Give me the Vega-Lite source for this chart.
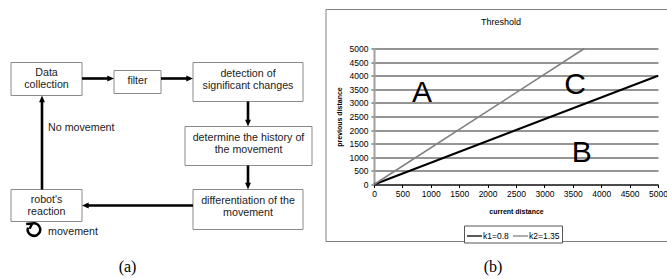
{
  "$schema": "https://vega.github.io/schema/vega-lite/v6.json",
  "background": "white",
  "padding": {"left": 0, "top": 8.5, "right": 0, "bottom": 0},
  "spacing": 0,
  "config": {"view": {"stroke": null}, "font": "Liberation Sans"},
  "datasets": {
    "boxes": [
      {"x": 11, "x2": 82, "y": 62, "y2": 95},
      {"x": 114, "x2": 161, "y": 70, "y2": 93},
      {"x": 193, "x2": 303, "y": 62, "y2": 101},
      {"x": 185, "x2": 312, "y": 126, "y2": 165},
      {"x": 193, "x2": 303, "y": 189, "y2": 229},
      {"x": 11, "x2": 82, "y": 189, "y2": 221}
    ],
    "boxText": [
      {"x": 46.5, "y": 72, "label": "Data\ncollection"},
      {"x": 137.5, "y": 80, "label": "filter"},
      {"x": 248, "y": 73, "label": "detection of\nsignificant changes"},
      {"x": 248.5, "y": 137, "label": "determine the history of\nthe movement"},
      {"x": 248, "y": 200, "label": "differentiation of the\nmovement"},
      {"x": 46.5, "y": 199.5, "label": "robot's\nreaction"}
    ],
    "shafts": [
      {"x": 82, "y": 78, "x2": 109, "y2": 78},
      {"x": 161, "y": 78, "x2": 188, "y2": 78},
      {"x": 248, "y": 101, "x2": 248, "y2": 121},
      {"x": 248, "y": 165, "x2": 248, "y2": 184},
      {"x": 193, "y": 205, "x2": 87, "y2": 205},
      {"x": 42, "y": 189, "x2": 42, "y2": 100}
    ],
    "heads": [
      {"x": 114, "y": 78, "dir": "right"},
      {"x": 193, "y": 78, "dir": "right"},
      {"x": 248, "y": 126, "dir": "down"},
      {"x": 248, "y": 189, "dir": "down"},
      {"x": 82, "y": 205, "dir": "left"},
      {"x": 42, "y": 95, "dir": "up"}
    ],
    "notes": [
      {"x": 48, "y": 127, "text": "No movement"},
      {"x": 48, "y": 231, "text": "movement"}
    ],
    "loop": [{"x": 34, "y": 229}],
    "captionA": [{"x": 127.5, "y": 266, "text": "(a)"}],
    "lines": [
      {"series": "k1=0.8", "x": 0, "y": 0},
      {"series": "k1=0.8", "x": 5000, "y": 4000},
      {"series": "k2=1.35", "x": 0, "y": 0},
      {"series": "k2=1.35", "x": 3704, "y": 5000}
    ],
    "regions": [
      {"label": "A", "x": 845, "y": 3364},
      {"label": "C", "x": 3539, "y": 3640},
      {"label": "B", "x": 3657, "y": 1176}
    ],
    "frame": [
      {"x": -845, "y": 6434, "x2": 5176, "y2": 6434},
      {"x": -845, "y": -2096, "x2": 5176, "y2": -2096},
      {"x": -845, "y": -2096, "x2": -845, "y2": 6434}
    ],
    "chartTitle": [{"x": 2236, "y": 5956, "text": "Threshold"}],
    "captionB": [{"x": 2095, "y": -3015, "text": "(b)"}]
  },
  "hconcat": [
    {
      "width": 324.4,
      "height": 231,
      "encoding": {
        "x": {"field": "x", "type": "quantitative", "scale": {"domain": [0, 324.4], "nice": false, "zero": false}, "axis": null},
        "y": {"field": "y", "type": "quantitative", "scale": {"domain": [48, 279], "nice": false, "zero": false, "reverse": true}, "axis": null}
      },
      "layer": [
        {
          "data": {"name": "boxes"},
          "mark": {"type": "rect", "fill": "white", "stroke": "#8a8a8a", "strokeWidth": 1},
          "encoding": {"x2": {"field": "x2"}, "y2": {"field": "y2"}}
        },
        {
          "data": {"name": "boxText"},
          "mark": {"type": "text", "fontSize": 10.7, "lineBreak": "\n", "lineHeight": 12, "color": "#222", "baseline": "middle"},
          "encoding": {"text": {"field": "label"}}
        },
        {
          "data": {"name": "shafts"},
          "mark": {"type": "rule", "strokeWidth": 2.6, "color": "black"},
          "encoding": {"x2": {"field": "x2"}, "y2": {"field": "y2"}}
        },
        {
          "data": {"name": "heads"},
          "mark": {"type": "point", "filled": true, "size": 20, "color": "black", "opacity": 1, "strokeWidth": 0},
          "encoding": {
            "shape": {"field": "dir", "type": "nominal", "legend": null,
              "scale": {"domain": ["right", "down", "left", "up"],
                "range": ["M0,0L-3,-1.3L-3,1.3Z", "M0,0L-1.3,-3L1.3,-3Z", "M0,0L3,-1.3L3,1.3Z", "M0,0L-1.3,3L1.3,3Z"]}}
          }
        },
        {
          "data": {"name": "notes"},
          "mark": {"type": "text", "fontSize": 10.7, "align": "left", "baseline": "middle", "color": "#222"},
          "encoding": {"text": {"field": "text"}}
        },
        {
          "data": {"name": "loop"},
          "mark": {"type": "point", "shape": "M -1.5 -0.45 A 1.55 1.55 0 1 0 -0.55 -1.45 M -1.95 -1.35 L -0.45 -1.5 L -1.1 -0.2", "filled": false, "size": 64, "strokeWidth": 2.5, "color": "black", "opacity": 1}
        },
        {
          "data": {"name": "captionA"},
          "mark": {"type": "text", "font": "Liberation Serif", "fontSize": 16, "baseline": "middle", "color": "black"},
          "encoding": {"text": {"field": "text"}}
        }
      ]
    },
    {
      "width": 284,
      "height": 136,
      "encoding": {
        "x": {"field": "x", "type": "quantitative",
          "scale": {"domain": [0, 5000], "nice": false, "zero": false},
          "axis": {"title": "current distance", "values": [0, 500, 1000, 1500, 2000, 2500, 3000, 3500, 4000, 4500, 5000], "format": "d",
            "grid": false, "domainColor": "#000", "domainWidth": 1, "tickColor": "#000", "tickSize": 3,
            "labelFontSize": 8.5, "labelColor": "#000", "labelPadding": 2, "labelFlush": false,
            "titleFontSize": 7, "titleFontWeight": "bold", "titleColor": "#000", "titlePadding": 9}},
        "y": {"field": "y", "type": "quantitative",
          "scale": {"domain": [0, 5000], "nice": false, "zero": false},
          "axis": {"title": "previous distance", "values": [0, 500, 1000, 1500, 2000, 2500, 3000, 3500, 4000, 4500, 5000], "format": "d",
            "grid": true, "gridColor": "#2a2a2a", "gridWidth": 1, "domainColor": "#a0a0a0", "domainWidth": 2,
            "tickColor": "#333", "tickSize": 3, "labelFontSize": 8.5, "labelColor": "#000", "labelPadding": 3, "labelFlush": false,
            "titleFontSize": 7, "titleFontWeight": "bold", "titleColor": "#000", "titlePadding": 7}}
      },
      "layer": [
        {
          "data": {"name": "frame"},
          "mark": {"type": "rule", "color": "#808080", "strokeWidth": 1},
          "encoding": {"x2": {"field": "x2"}, "y2": {"field": "y2"}}
        },
        {
          "data": {"name": "lines"},
          "mark": {"type": "line", "strokeCap": "butt"},
          "encoding": {
            "color": {"field": "series", "type": "nominal",
              "scale": {"domain": ["k1=0.8", "k2=1.35"], "range": ["#000000", "#808080"]},
              "legend": {"orient": "none", "legendX": 464, "legendY": 177, "direction": "horizontal", "title": null,
                "symbolType": "stroke", "symbolSize": 225, "symbolStrokeWidth": 1.3, "labelFontSize": 8.5, "labelColor": "#000",
                "labelOffset": 0, "columnPadding": 1, "padding": 2, "strokeColor": "#555", "fillColor": "white"}},
            "strokeWidth": {"condition": {"test": "datum.series === 'k1=0.8'", "value": 2}, "value": 1.5}
          }
        },
        {
          "data": {"name": "regions"},
          "mark": {"type": "text", "fontSize": 30, "baseline": "middle", "color": "black"},
          "encoding": {"text": {"field": "label"}}
        },
        {
          "data": {"name": "chartTitle"},
          "mark": {"type": "text", "fontSize": 9, "baseline": "middle", "color": "black"},
          "encoding": {"text": {"field": "text"}}
        },
        {
          "data": {"name": "captionB"},
          "mark": {"type": "text", "font": "Liberation Serif", "fontSize": 16, "baseline": "middle", "color": "black"},
          "encoding": {"text": {"field": "text"}}
        }
      ]
    }
  ]
}
